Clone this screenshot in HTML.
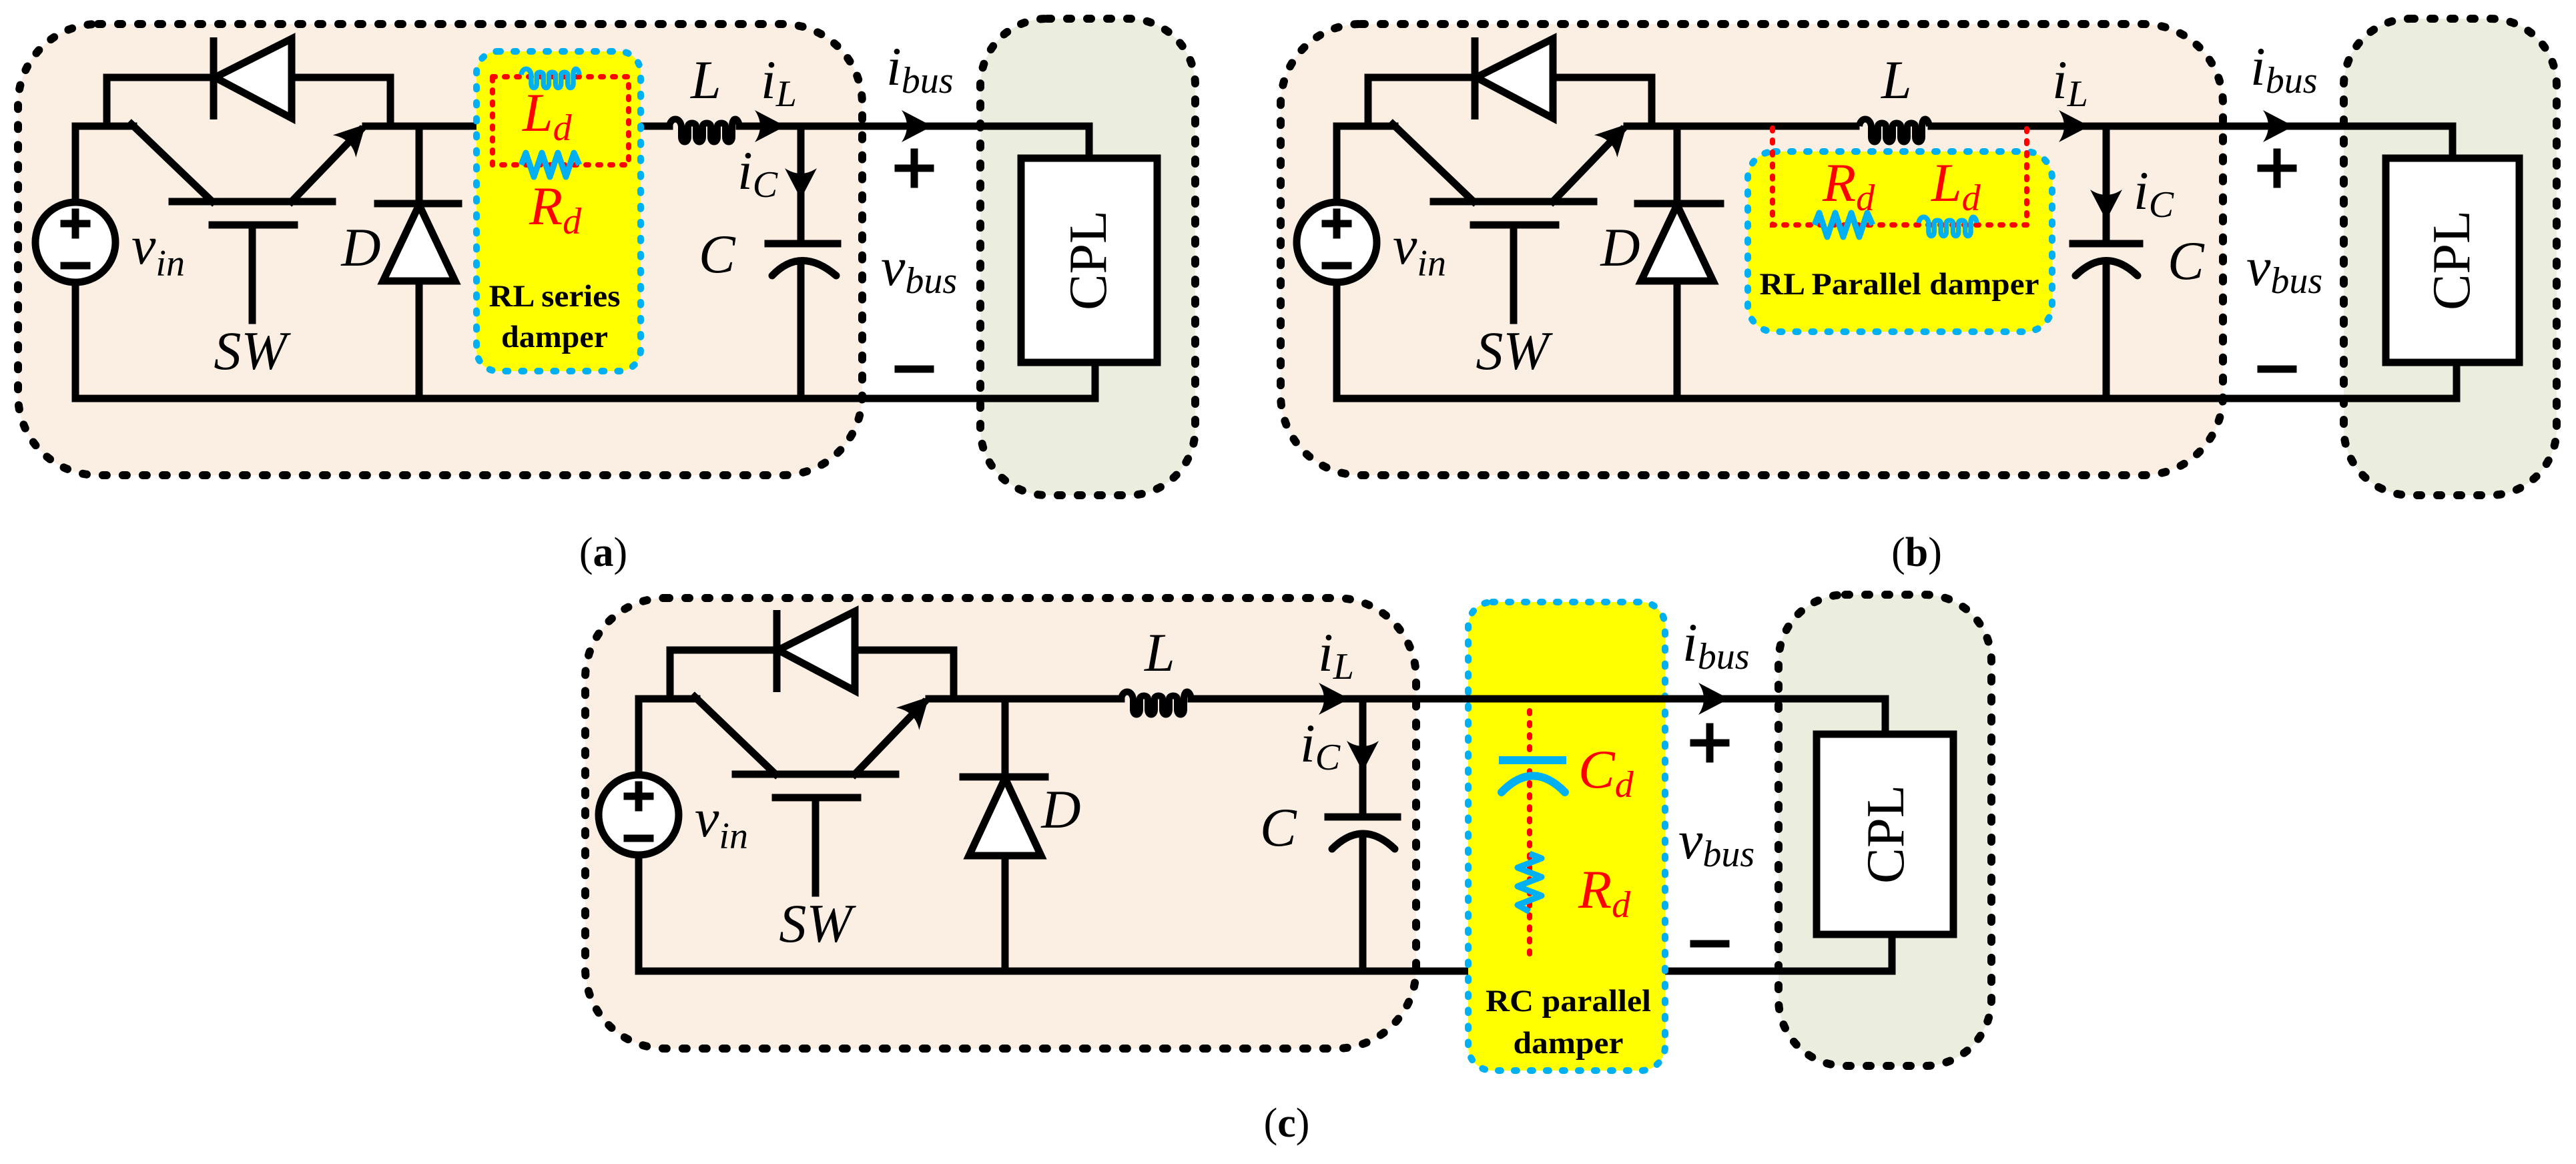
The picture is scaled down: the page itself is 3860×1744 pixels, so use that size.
<!DOCTYPE html>
<html><head><meta charset="utf-8"><style>
html,body{margin:0;padding:0;background:#fff;}
svg{display:block;}
text{font-family:"Liberation Serif",serif;}
.it{font-style:italic;font-size:82px;}
.sb{font-size:56px;}
.w{fill:none;stroke:#000;stroke-width:11;stroke-linecap:square;stroke-linejoin:miter;}
.box{stroke:#000;stroke-width:12;stroke-dasharray:6 24;stroke-linecap:round;}
.yb{fill:#ffff00;stroke:#00b0f0;stroke-width:10;stroke-dasharray:4 20;stroke-linecap:round;}
.rd{fill:none;stroke:#ff0000;stroke-width:8;stroke-dasharray:4 14;stroke-linecap:round;}
.bl{fill:none;stroke:#00b0f0;stroke-width:9;stroke-linejoin:round;}
.dt{font-weight:bold;font-size:47px;}
</style></head><body>
<svg width="3860" height="1744" viewBox="0 0 3860 1744" xmlns="http://www.w3.org/2000/svg">
<defs>
<path id="arr" d="M0,0 L-46,-24 Q-30,0 -46,24 Z" fill="#000"/>
<path id="coil" d="M0,0 C2,-14 16,-14 18,0 V16 C18,26 28,26 28,16 V0 C28,-6 40,-6 40,0 V16 C40,26 50,26 50,16 V0 C50,-6 62,-6 62,0 V16 C62,26 72,26 72,16 V0 C72,-6 84,-6 84,0 V16 C84,26 94,26 94,16 V0 C94,-14 103,-14 105,0"/>
<g id="conv">
<path class="w" d="M113,303 V189 H200 M160,189 V116 H320 M437,116 H585 V189 M548,189 H585"/>
<line x1="320" y1="56" x2="320" y2="179" stroke="#000" stroke-width="11"/>
<polygon points="322,116 437,58 437,177" fill="#fff" stroke="#000" stroke-width="11" stroke-linejoin="miter"/>
<path class="w" d="M197,186 L318,302 M437,302 L540,195"/>
<use href="#arr" transform="translate(548,186) rotate(-46)"/>
<path class="w" d="M258,302 H498 M318,337 H441 M378,337 V480"/>
<circle cx="113" cy="363" r="60" fill="#fff" stroke="#000" stroke-width="11"/>
<path class="w" d="M113,318 V352 M96,335 H130 M96,398 H130" stroke-linecap="round"/>
<path class="w" d="M113,423 V597"/>
</g>
</defs>

<!-- ============ Panel (a) ============ -->
<rect x="27" y="36" width="1265" height="676" rx="120" fill="#fbeee3" class="box"/>
<rect x="1469" y="28" width="322" height="714" rx="100" fill="#ebeedf" class="box"/>
<use href="#conv"/>
<path class="w" d="M113,597 H1641 V543 M585,189 H738 M942,189 H1003 M1108,189 H1632 V237 M628,189 V597 M566,305 H687"/>
<polygon points="628,307 574,421 682,421" fill="#fff" stroke="#000" stroke-width="11"/>
<use href="#coil" transform="translate(1003,189)" fill="none" stroke="#000" stroke-width="10"/>
<use href="#arr" transform="translate(1177,189)"/>
<use href="#arr" transform="translate(1397,189)"/>
<path class="w" d="M1200,189 V365 M1151,365 H1255 M1200,392 V597"/>
<path d="M1157,413 Q1200,368 1253,413" fill="none" stroke="#000" stroke-width="11" stroke-linecap="round"/>
<use href="#arr" transform="translate(1200,298) rotate(90)"/>
<rect x="1530" y="237" width="204" height="306" fill="#fff" stroke="#000" stroke-width="11"/>
<text x="0" y="0" font-size="80" transform="translate(1657,390) rotate(-90)" text-anchor="middle" textLength="150" lengthAdjust="spacingAndGlyphs">CPL</text>
<path class="w" d="M1370,228 V276 M1346,252 H1394 M1346,553 H1394" stroke-linecap="round"/>
<!-- damper a -->
<rect x="714" y="77" width="246" height="479" rx="32" class="yb"/>
<rect x="738" y="115" width="204" height="132" class="rd"/>
<use href="#coil" transform="translate(781,112) scale(0.83)" class="bl"/>
<path class="bl" d="M781,247 l7,-18 l12,36 l12,-36 l12,36 l12,-36 l12,36 l12,-36 l8,18"/>
<text class="it" x="783" y="196" fill="#f00">L<tspan class="sb" dy="14">d</tspan></text>
<text class="it" x="793" y="336" fill="#f00">R<tspan class="sb" dy="14">d</tspan></text>
<text class="dt" x="831" y="459" text-anchor="middle" textLength="197" lengthAdjust="spacingAndGlyphs">RL series</text>
<text class="dt" x="831" y="520" text-anchor="middle" textLength="160" lengthAdjust="spacingAndGlyphs">damper</text>
<!-- labels a -->
<text class="it" x="197" y="395">v<tspan class="sb" dy="18">in</tspan></text>
<text class="it" x="375" y="553" text-anchor="middle" font-size="86">SW</text>
<text class="it" x="541" y="398" text-anchor="middle">D</text>
<text class="it" x="1035" y="147">L</text>
<text class="it" x="1140" y="147">i<tspan class="sb" dy="12">L</tspan></text>
<text class="it" x="1328" y="127">i<tspan class="sb" dy="12">bus</tspan></text>
<text class="it" x="1105" y="283">i<tspan class="sb" dy="12">C</tspan></text>
<text class="it" x="1047" y="408">C</text>
<text class="it" x="1320" y="427">v<tspan class="sb" dy="12">bus</tspan></text>
<text x="904" y="848" font-size="62" text-anchor="middle">(<tspan font-weight="bold">a</tspan>)</text>

<!-- ============ Panel (b) ============ -->
<rect x="1919" y="36" width="1412" height="676" rx="120" fill="#fbeee3" class="box"/>
<rect x="3512" y="28" width="319" height="714" rx="100" fill="#ebeedf" class="box"/>
<use href="#conv" transform="translate(1890,0)"/>
<path class="w" d="M2003,597 H3681 V543 M2475,189 H2781 M2894,189 H3675 V237 M2513,189 V597 M2454,305 H2578"/>
<polygon points="2513,307 2459,421 2567,421" fill="#fff" stroke="#000" stroke-width="11"/>
<use href="#coil" transform="translate(2786,189)" fill="none" stroke="#000" stroke-width="10"/>
<use href="#arr" transform="translate(3131,189)"/>
<use href="#arr" transform="translate(3437,189)"/>
<path class="w" d="M3156,189 V365 M3106,365 H3206 M3156,392 V597"/>
<path d="M3110,413 Q3156,368 3203,413" fill="none" stroke="#000" stroke-width="11" stroke-linecap="round"/>
<use href="#arr" transform="translate(3156,330) rotate(90)"/>
<rect x="3575" y="237" width="200" height="306" fill="#fff" stroke="#000" stroke-width="11"/>
<text x="0" y="0" font-size="80" transform="translate(3700,390) rotate(-90)" text-anchor="middle" textLength="150" lengthAdjust="spacingAndGlyphs">CPL</text>
<path class="w" d="M3412,228 V276 M3388,252 H3436 M3388,553 H3436" stroke-linecap="round"/>
<!-- damper b -->
<rect x="2619" y="227" width="456" height="270" rx="40" class="yb"/>
<path class="rd" d="M2656,192 V337 H3037 V192"/>
<path class="bl" d="M2719,337 l7,-18 l12,36 l12,-36 l12,36 l12,-36 l12,36 l12,-36 l8,18"/>
<use href="#coil" transform="translate(2875,334) scale(0.83)" class="bl"/>
<text class="it" x="2731" y="301" fill="#f00">R<tspan class="sb" dy="14">d</tspan></text>
<text class="it" x="2894" y="301" fill="#f00">L<tspan class="sb" dy="14">d</tspan></text>
<text class="dt" x="2846" y="441" text-anchor="middle" textLength="419" lengthAdjust="spacingAndGlyphs">RL Parallel damper</text>
<!-- labels b -->
<text class="it" x="2087" y="395">v<tspan class="sb" dy="18">in</tspan></text>
<text class="it" x="2266" y="553" text-anchor="middle" font-size="86">SW</text>
<text class="it" x="2428" y="398" text-anchor="middle">D</text>
<text class="it" x="2819" y="147">L</text>
<text class="it" x="3075" y="147">i<tspan class="sb" dy="12">L</tspan></text>
<text class="it" x="3372" y="127">i<tspan class="sb" dy="12">bus</tspan></text>
<text class="it" x="3197" y="313">i<tspan class="sb" dy="12">C</tspan></text>
<text class="it" x="3248" y="418">C</text>
<text class="it" x="3366" y="427">v<tspan class="sb" dy="12">bus</tspan></text>
<text x="2872" y="848" font-size="62" text-anchor="middle">(<tspan font-weight="bold">b</tspan>)</text>

<!-- ============ Panel (c) ============ -->
<rect x="877" y="896" width="1245" height="675" rx="120" fill="#fbeee3" class="box"/>
<rect x="2665" y="891" width="319" height="706" rx="100" fill="#ebeedf" class="box"/>
<use href="#conv" transform="translate(844,858)"/>
<path class="w" d="M957,1455 H2835 V1400 M1429,1047 H1680 M1785,1047 H2825 V1100 M1506,1047 V1455 M1443,1164 H1566"/>
<polygon points="1506,1166 1452,1282 1560,1282" fill="#fff" stroke="#000" stroke-width="11"/>
<use href="#coil" transform="translate(1680,1047)" fill="none" stroke="#000" stroke-width="10"/>
<use href="#arr" transform="translate(2022,1047)"/>
<use href="#arr" transform="translate(2591,1047)"/>
<path class="w" d="M2042,1047 V1224 M1990,1224 H2094 M2042,1250 V1455"/>
<path d="M1996,1272 Q2042,1226 2090,1272" fill="none" stroke="#000" stroke-width="11" stroke-linecap="round"/>
<use href="#arr" transform="translate(2042,1156) rotate(90)"/>
<rect x="2722" y="1100" width="205" height="300" fill="#fff" stroke="#000" stroke-width="11"/>
<text x="0" y="0" font-size="80" transform="translate(2852,1250) rotate(-90)" text-anchor="middle" textLength="148" lengthAdjust="spacingAndGlyphs">CPL</text>
<path class="w" d="M2562,1089 V1137 M2538,1113 H2586 M2538,1414 H2586" stroke-linecap="round"/>
<!-- damper c -->
<rect x="2200" y="902" width="295" height="702" rx="36" class="yb"/>
<path class="w" d="M2120,1047 H2591"/>
<path class="rd" d="M2292,1065 V1441"/>
<path d="M2246,1139 H2347" stroke="#00b0f0" stroke-width="12"/>
<path d="M2250,1187 Q2297,1138 2345,1187" fill="none" stroke="#00b0f0" stroke-width="12" stroke-linecap="round"/>
<path class="bl" d="M2292,1279 l18,7 l-36,14 l36,14 l-36,14 l36,14 l-36,14 l18,10"/>
<text class="it" x="2365" y="1180" fill="#f00">C<tspan class="sb" dy="14">d</tspan></text>
<text class="it" x="2365" y="1360" fill="#f00">R<tspan class="sb" dy="14">d</tspan></text>
<text class="dt" x="2350" y="1515" text-anchor="middle" textLength="248" lengthAdjust="spacingAndGlyphs">RC parallel</text>
<text class="dt" x="2350" y="1578" text-anchor="middle" textLength="165" lengthAdjust="spacingAndGlyphs">damper</text>
<!-- labels c -->
<text class="it" x="1041" y="1253">v<tspan class="sb" dy="18">in</tspan></text>
<text class="it" x="1222" y="1411" text-anchor="middle" font-size="86">SW</text>
<text class="it" x="1590" y="1240" text-anchor="middle">D</text>
<text class="it" x="1715" y="1005">L</text>
<text class="it" x="1975" y="1005">i<tspan class="sb" dy="12">L</tspan></text>
<text class="it" x="2521" y="990">i<tspan class="sb" dy="12">bus</tspan></text>
<text class="it" x="1948" y="1141">i<tspan class="sb" dy="12">C</tspan></text>
<text class="it" x="1888" y="1267">C</text>
<text class="it" x="2515" y="1286">v<tspan class="sb" dy="12">bus</tspan></text>
<text x="1928" y="1703" font-size="62" text-anchor="middle">(<tspan font-weight="bold">c</tspan>)</text>
</svg>
</body></html>
